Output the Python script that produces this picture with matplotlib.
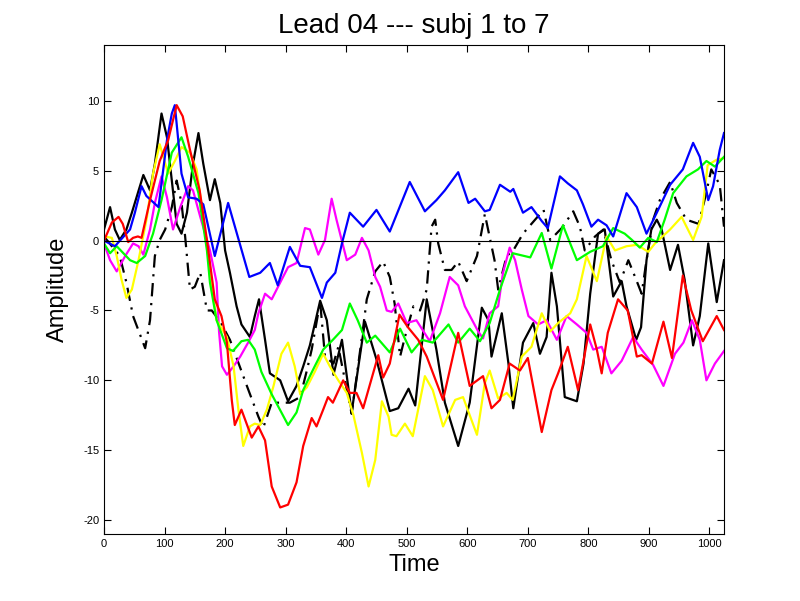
import matplotlib
matplotlib.use("Agg")
import matplotlib.pyplot as plt

plt.rcParams['font.family'] = ['Liberation Sans', 'DejaVu Sans']
plt.rcParams['axes.unicode_minus'] = False

# subj 1 : blue
t_blue = [0, 18, 43, 51, 62, 70, 90, 104, 112, 117, 128, 139, 153, 164, 183, 205, 240, 258, 274, 287,
          307, 324, 340, 360, 368, 382, 393, 406, 428, 450, 472, 505, 530, 549, 563, 585, 602, 613, 629, 637,
          654, 671, 676, 692, 706, 723, 733, 753, 766, 781, 791, 805, 816, 830, 841, 863, 880, 896, 913, 935,
          956, 973, 984, 998, 1006, 1017, 1024]
v_blue = [0.0, -0.4, 0.8, 2.0, 3.9, 3.2, 2.4, 7.2, 9.1, 9.7, 4.8, 3.1, 3.0, 2.6, -1.1, 2.7, -2.6, -2.3, -1.6, -3.2,
          -0.45, -1.8, -1.9, -4.1, -3.0, -2.3, -0.2, 2.0, 1.0, 2.2, 0.65, 4.2, 2.1, 2.9, 3.6, 4.9, 2.7, 3.0, 2.1, 2.2,
          4.0, 3.5, 3.7, 2.0, 2.4, 1.4, 0.9, 4.6, 4.1, 3.6, 2.6, 1.0, 1.5, 1.1, 0.3, 3.4, 2.4, 0.5, 2.0, 4.0,
          5.1, 7.0, 6.0, 2.9, 3.9, 6.5, 7.7]

# subj 2 : green
t_green = [0, 10, 21, 43, 54, 68, 81, 95, 112, 128, 139, 156, 170, 175, 186, 203, 213, 227, 238, 249,
           260, 277, 293, 304, 318, 329, 340, 348, 362, 378, 393, 406, 419, 434, 448, 472, 489, 508, 525, 543,
           569, 585, 604, 621, 637, 654, 675, 704, 723, 739, 758, 781, 803, 824, 841, 860, 872, 885, 899, 913,
           926, 940, 962, 981, 995, 1009, 1024]
v_green = [-0.2, -0.9, -0.4, -1.4, -1.6, -1.1, 0.5, 2.9, 6.3, 7.4, 6.0, 3.4, -0.7, -3.0, -5.7, -7.7, -7.9, -7.2, -7.1, -7.8,
           -9.4, -11.0, -12.3, -13.2, -12.3, -10.7, -9.7, -9.0, -7.8, -7.1, -6.4, -4.5, -5.7, -7.3, -6.8, -8.0, -6.3, -8.0, -7.1, -7.3,
           -6.0, -7.3, -6.3, -7.2, -5.9, -3.5, -0.9, -1.2, 0.55, -2.0, 1.1, -1.4, -0.8, -0.4, 0.9, 0.5, 0.05, -0.5, 0.2, -0.1,
           1.5, 3.4, 4.6, 5.1, 5.7, 5.3, 6.0]

# subj 3 : red
t_red = [0, 13, 24, 31, 40, 48, 56, 62, 76, 92, 106, 120, 130, 142, 158, 170, 183, 194, 203, 211,
         216, 227, 244, 255, 266, 277, 291, 304, 318, 329, 343, 351, 362, 370, 378, 395, 406, 417, 428, 453,
         461, 472, 488, 502, 519, 533, 560, 585, 604, 626, 640, 654, 670, 687, 700, 723, 739, 750, 766, 783,
         803, 814, 822, 832, 849, 865, 880, 888, 905, 924, 938, 956, 970, 989, 1012, 1024]
v_red = [0.0, 1.3, 1.7, 1.2, -0.1, 0.2, 0.3, 0.2, 2.9, 5.7, 7.2, 9.7, 8.9, 6.5, 3.6, 0.05, -4.2, -5.4, -7.3, -11.4,
         -13.2, -12.1, -14.1, -13.3, -14.3, -17.6, -19.1, -18.9, -17.3, -14.7, -12.7, -13.3, -12.1, -11.2, -11.6, -10.0, -10.9, -10.9, -12.0, -8.2,
         -9.8, -8.8, -5.3, -6.2, -7.1, -8.3, -11.4, -6.6, -10.4, -9.7, -12.0, -11.4, -8.8, -9.3, -8.4, -13.7, -10.7, -9.5, -7.6, -10.7,
         -6.0, -7.8, -9.5, -6.6, -4.2, -5.0, -8.3, -8.2, -8.8, -5.8, -8.4, -2.5, -5.0, -7.2, -5.4, -6.4]

# subj 4 : yellow
t_yellow = [0, 13, 21, 29, 37, 46, 57, 71, 81, 92, 106, 117, 128, 142, 153, 164, 172, 181, 186, 203,
            214, 222, 230, 241, 249, 258, 269, 280, 293, 304, 315, 324, 335, 348, 362, 373, 387, 401, 412, 426,
            437, 448, 459, 470, 475, 483, 497, 510, 530, 543, 560, 580, 593, 616, 629, 637, 651, 665, 675, 690,
            706, 723, 737, 750, 770, 781, 797, 814, 830, 844, 863, 880, 899, 910, 935, 954, 973, 987, 997, 1012,
            1024]
v_yellow = [0.3, 0.2, -1.1, -2.8, -4.1, -3.5, -1.4, 1.7, 4.8, 6.9, 4.8, 5.7, 6.7, 6.3, 5.1, 1.7, -1.1, -4.2, -5.7, -6.9,
            -9.0, -12.1, -14.7, -13.3, -13.1, -13.2, -12.1, -10.4, -8.1, -7.3, -9.0, -11.0, -10.5, -9.4, -8.1, -9.0, -10.0, -10.9, -12.5, -15.2,
            -17.6, -15.7, -11.5, -12.6, -13.9, -14.0, -13.1, -14.0, -9.7, -10.7, -13.3, -11.4, -11.2, -13.9, -10.2, -9.3, -11.3, -10.9, -11.4, -8.3,
            -7.6, -5.2, -6.5, -5.9, -5.2, -4.2, -1.1, -2.9, 0.3, -0.7, -0.4, -0.3, -0.8, -0.2, 0.8, 1.7, 0.05, 1.7, 5.4, 5.8,
            5.9]

# subj 5 : magenta
t_mag = [0, 10, 21, 35, 48, 57, 65, 76, 84, 95, 104, 114, 126, 139, 147, 159, 170, 175, 186, 190,
         195, 203, 214, 225, 238, 249, 255, 266, 277, 291, 304, 318, 332, 340, 354, 365, 376, 384, 401, 415,
         426, 437, 448, 456, 467, 475, 486, 500, 516, 538, 555, 571, 585, 596, 618, 626, 637, 651, 659, 670,
         679, 690, 701, 717, 731, 748, 764, 781, 797, 808, 822, 838, 855, 874, 888, 907, 924, 943, 957, 971,
         984, 995, 1009, 1024]
v_mag = [-0.2, -1.4, -2.2, -1.1, -0.2, -0.4, -1.0, 0.8, 2.7, 4.6, 3.1, 0.8, 2.4, 3.9, 3.6, 1.7, 0.05, -0.7, -3.0, -6.5,
         -9.0, -9.6, -9.0, -8.3, -7.3, -6.4, -5.2, -3.8, -4.2, -3.0, -1.9, -1.6, 0.9, 0.8, -1.0, 0.05, 3.0, 1.5, -1.4, -1.0,
         0.2, -0.7, -2.6, -3.3, -5.0, -5.1, -4.5, -5.9, -5.7, -7.2, -5.2, -2.6, -3.2, -4.7, -6.5, -7.0, -5.2, -4.7, -2.3, -0.5,
         -1.4, -3.5, -5.4, -6.0, -5.7, -7.1, -5.4, -6.0, -6.6, -7.8, -7.6, -9.5, -8.6, -6.9, -7.8, -8.9, -10.4, -8.1, -7.3, -5.7,
         -7.1, -10.0, -8.8, -7.9]

# subj 6 : black solid
t_blk = [0, 10, 18, 26, 37, 46, 65, 76, 84, 95, 104, 112, 120, 128, 137, 147, 156, 164, 175, 183,
         192, 200, 208, 219, 227, 241, 249, 256, 266, 274, 291, 304, 318, 329, 340, 357, 368, 379, 393, 409,
         431, 450, 472, 486, 503, 514, 533, 549, 563, 585, 604, 624, 635, 640, 657, 668, 676, 692, 709, 720,
         731, 739, 748, 761, 781, 792, 803, 816, 827, 841, 855, 863, 879, 887, 896, 904, 913, 921, 935, 948,
         959, 973, 984, 998, 1012, 1024]
v_blk = [0.8, 2.4, 0.8, 0.05, 0.8, 2.0, 4.7, 3.6, 5.5, 9.1, 7.4, 4.3, 1.2, 0.5, 2.0, 5.5, 7.7, 5.5, 2.9, 4.4,
         2.7, -0.7, -2.3, -4.7, -6.0, -6.9, -5.4, -4.2, -7.1, -9.5, -10.0, -11.5, -10.4, -9.0, -7.5, -4.3, -5.7, -9.6, -7.1, -12.3,
         -5.8, -8.5, -12.2, -12.0, -10.6, -11.8, -4.2, -7.8, -11.6, -14.7, -11.6, -4.8, -5.7, -8.3, -5.2, -8.8, -12.0, -7.3, -5.9, -8.1,
         -6.9, -2.3, -4.7, -11.2, -11.5, -8.8, -3.8, 0.5, 0.8, -4.0, -2.9, -4.7, -7.1, -6.2, -1.4, 0.8, 1.5, 0.8, -2.1, -0.3,
         -2.8, -7.5, -5.4, -0.2, -4.4, -1.4]

# subj 7 : black dash-dot
t_bdd = [0, 26, 37, 48, 68, 76, 84, 92, 101, 112, 120, 128, 134, 142, 150, 159, 170, 178, 192, 208,
         236, 255, 263, 277, 291, 307, 324, 335, 343, 357, 365, 379, 387, 409, 426, 434, 448, 461, 472, 480,
         489, 497, 511, 522, 533, 541, 547, 552, 563, 574, 585, 599, 616, 629, 645, 651, 665, 676, 692, 704,
         726, 737, 756, 775, 786, 794, 811, 825, 838, 852, 866, 879, 888, 896, 907, 918, 935, 946, 962, 982,
         993, 1003, 1017, 1024]
v_bdd = [0.3, -1.1, -3.0, -5.4, -7.7, -5.7, -1.1, 0.05, 0.8, 2.4, 4.3, 2.7, 0.3, -3.5, -3.3, -2.3, -5.0, -5.0, -5.8, -7.1,
         -10.4, -12.6, -13.4, -11.6, -11.6, -11.6, -11.2, -9.3, -7.8, -4.4, -8.3, -8.8, -7.6, -12.4, -6.9, -4.2, -2.2, -1.5, -2.6, -4.5,
         -8.3, -6.9, -4.7, -5.0, -3.5, 1.0, 1.5, -0.2, -2.1, -2.1, -1.5, -2.9, -1.1, 1.9, -1.4, -3.5, -1.1, -0.7, 0.5, 1.1,
         2.2, 0.05, 0.9, 2.1, 1.0, -0.7, 0.3, 0.8, -1.4, -3.0, -1.4, -2.8, -3.8, -1.4, 1.5, 2.9, 4.2, 2.7, 1.5, 1.2,
         3.1, 5.1, 4.0, 1.0]

fig = plt.figure(figsize=(8.0, 6.01), dpi=100)
fig.patch.set_facecolor('white')
ax = fig.add_axes([0.13, 0.1115, 0.775, 0.8135])

lw = 1.6
ax.plot(t_bdd, v_bdd, color='black', linewidth=lw, linestyle=(0, (6, 3, 1, 3)))
ax.plot(t_blk, v_blk, color='black', linewidth=lw)
ax.plot(t_mag, v_mag, color='#ff00ff', linewidth=lw)
ax.plot(t_yellow, v_yellow, color='#ffff00', linewidth=lw)
ax.plot(t_green, v_green, color='#00ff00', linewidth=lw)
ax.plot(t_blue, v_blue, color='#0000ff', linewidth=lw)
ax.plot(t_red, v_red, color='#ff0000', linewidth=lw)
ax.axhline(0, color='black', linewidth=0.8)

ax.set_xlim(0, 1024)
ax.set_ylim(-21, 14)
ax.set_xticks(range(0, 1001, 100))
ax.set_yticks(range(-20, 11, 5))
ax.tick_params(direction='in', top=True, right=True, labelsize=8, length=5, width=0.8)
for s in ax.spines.values():
    s.set_linewidth(0.8)

ax.set_title('Lead 04 --- subj 1 to 7', fontsize=20, pad=9)
ax.set_xlabel('Time', fontsize=17, labelpad=4)
ax.set_ylabel('Amplitude', fontsize=17, labelpad=10)

fig.savefig('out.png', dpi=100)
